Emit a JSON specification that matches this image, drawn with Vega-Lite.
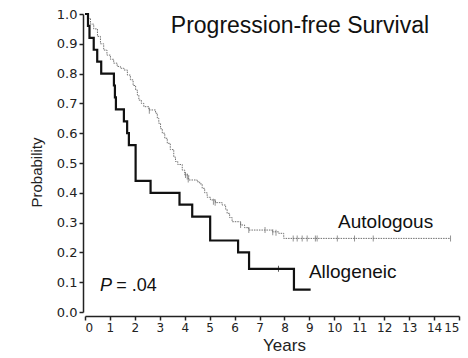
{
  "$schema": "https://vega.github.io/schema/vega-lite/v6.json",
  "autosize": {"type": "none"},
  "padding": {"left": 85, "top": 14, "right": 9, "bottom": 46},
  "width": 374,
  "height": 298,
  "background": "white",
  "config": {
    "view": {"stroke": null},
    "font": "Liberation Sans",
    "axis": {
      "grid": false,
      "domainColor": "#222",
      "domainWidth": 1.5,
      "tickColor": "#222",
      "tickSize": 4,
      "tickWidth": 1.5,
      "labelColor": "#222",
      "labelFont": "DejaVu Sans",
      "labelFontWeight": "normal",
      "labelFontSize": 13,
      "labelPadding": 2,
      "labelOverlap": false,
      "labelBound": false,
      "titleFont": "Liberation Sans",
      "titleFontWeight": "normal",
      "titleColor": "#222"
    }
  },
  "datasets": {
    "curves": [
      {"group": "Autologous", "year": 0, "surv": 1.0},
      {"group": "Autologous", "year": 0.1, "surv": 0.985},
      {"group": "Autologous", "year": 0.22, "surv": 0.966},
      {"group": "Autologous", "year": 0.35, "surv": 0.95},
      {"group": "Autologous", "year": 0.5, "surv": 0.925},
      {"group": "Autologous", "year": 0.62, "surv": 0.9},
      {"group": "Autologous", "year": 0.75, "surv": 0.879},
      {"group": "Autologous", "year": 0.88, "surv": 0.862},
      {"group": "Autologous", "year": 1.02, "surv": 0.848},
      {"group": "Autologous", "year": 1.15, "surv": 0.835},
      {"group": "Autologous", "year": 1.29, "surv": 0.824},
      {"group": "Autologous", "year": 1.42, "surv": 0.818},
      {"group": "Autologous", "year": 1.56, "surv": 0.812},
      {"group": "Autologous", "year": 1.7, "surv": 0.795},
      {"group": "Autologous", "year": 1.82, "surv": 0.779},
      {"group": "Autologous", "year": 1.93, "surv": 0.76},
      {"group": "Autologous", "year": 2.03, "surv": 0.745},
      {"group": "Autologous", "year": 2.1, "surv": 0.728},
      {"group": "Autologous", "year": 2.16, "surv": 0.711},
      {"group": "Autologous", "year": 2.26, "surv": 0.7},
      {"group": "Autologous", "year": 2.36, "surv": 0.689},
      {"group": "Autologous", "year": 2.56, "surv": 0.678},
      {"group": "Autologous", "year": 2.83, "surv": 0.667},
      {"group": "Autologous", "year": 2.9, "surv": 0.65},
      {"group": "Autologous", "year": 2.96, "surv": 0.633},
      {"group": "Autologous", "year": 3.03, "surv": 0.615},
      {"group": "Autologous", "year": 3.1, "surv": 0.6},
      {"group": "Autologous", "year": 3.2, "surv": 0.583},
      {"group": "Autologous", "year": 3.3, "surv": 0.566},
      {"group": "Autologous", "year": 3.42, "surv": 0.545},
      {"group": "Autologous", "year": 3.56, "surv": 0.52},
      {"group": "Autologous", "year": 3.63, "surv": 0.505},
      {"group": "Autologous", "year": 3.72, "surv": 0.495},
      {"group": "Autologous", "year": 3.9, "surv": 0.476},
      {"group": "Autologous", "year": 4.0, "surv": 0.46},
      {"group": "Autologous", "year": 4.16, "surv": 0.443},
      {"group": "Autologous", "year": 4.5, "surv": 0.437},
      {"group": "Autologous", "year": 4.6, "surv": 0.43},
      {"group": "Autologous", "year": 4.7, "surv": 0.415},
      {"group": "Autologous", "year": 4.8, "surv": 0.4},
      {"group": "Autologous", "year": 4.9, "surv": 0.385},
      {"group": "Autologous", "year": 5.03, "surv": 0.376},
      {"group": "Autologous", "year": 5.23, "surv": 0.367},
      {"group": "Autologous", "year": 5.5, "surv": 0.359},
      {"group": "Autologous", "year": 5.64, "surv": 0.345},
      {"group": "Autologous", "year": 5.7, "surv": 0.331},
      {"group": "Autologous", "year": 5.8, "surv": 0.317},
      {"group": "Autologous", "year": 5.9, "surv": 0.303},
      {"group": "Autologous", "year": 6.24, "surv": 0.292},
      {"group": "Autologous", "year": 6.4, "surv": 0.283},
      {"group": "Autologous", "year": 6.57, "surv": 0.275},
      {"group": "Autologous", "year": 7.51, "surv": 0.269},
      {"group": "Autologous", "year": 7.77, "surv": 0.264},
      {"group": "Autologous", "year": 7.97, "surv": 0.247},
      {"group": "Autologous", "year": 14.66, "surv": 0.247},
      {"group": "Allogeneic", "year": 0, "surv": 1.0},
      {"group": "Allogeneic", "year": 0.12, "surv": 0.96},
      {"group": "Allogeneic", "year": 0.18, "surv": 0.92},
      {"group": "Allogeneic", "year": 0.35, "surv": 0.88},
      {"group": "Allogeneic", "year": 0.49, "surv": 0.84},
      {"group": "Allogeneic", "year": 0.65, "surv": 0.8},
      {"group": "Allogeneic", "year": 1.16, "surv": 0.76},
      {"group": "Allogeneic", "year": 1.2, "surv": 0.72},
      {"group": "Allogeneic", "year": 1.24, "surv": 0.68},
      {"group": "Allogeneic", "year": 1.56, "surv": 0.64},
      {"group": "Allogeneic", "year": 1.69, "surv": 0.6},
      {"group": "Allogeneic", "year": 1.76, "surv": 0.56},
      {"group": "Allogeneic", "year": 2.03, "surv": 0.44},
      {"group": "Allogeneic", "year": 2.63, "surv": 0.4},
      {"group": "Allogeneic", "year": 3.79, "surv": 0.36},
      {"group": "Allogeneic", "year": 4.3, "surv": 0.32},
      {"group": "Allogeneic", "year": 5.02, "surv": 0.24},
      {"group": "Allogeneic", "year": 6.14, "surv": 0.2},
      {"group": "Allogeneic", "year": 6.58, "surv": 0.145},
      {"group": "Allogeneic", "year": 8.38, "surv": 0.075},
      {"group": "Allogeneic", "year": 9.05, "surv": 0.075}
    ],
    "censored": [
      {"group": "Autologous", "year": 2.58, "surv": 0.675},
      {"group": "Autologous", "year": 4.03, "surv": 0.46},
      {"group": "Autologous", "year": 4.1, "surv": 0.455},
      {"group": "Autologous", "year": 4.14, "surv": 0.445},
      {"group": "Autologous", "year": 5.15, "surv": 0.37},
      {"group": "Autologous", "year": 5.22, "surv": 0.367},
      {"group": "Autologous", "year": 6.24, "surv": 0.292},
      {"group": "Autologous", "year": 6.57, "surv": 0.275},
      {"group": "Autologous", "year": 7.22, "surv": 0.275},
      {"group": "Autologous", "year": 7.53, "surv": 0.268},
      {"group": "Autologous", "year": 7.66, "surv": 0.266},
      {"group": "Autologous", "year": 8.35, "surv": 0.247},
      {"group": "Autologous", "year": 8.51, "surv": 0.247},
      {"group": "Autologous", "year": 8.71, "surv": 0.247},
      {"group": "Autologous", "year": 8.91, "surv": 0.247},
      {"group": "Autologous", "year": 9.24, "surv": 0.247},
      {"group": "Autologous", "year": 9.31, "surv": 0.247},
      {"group": "Autologous", "year": 10.12, "surv": 0.247},
      {"group": "Autologous", "year": 10.81, "surv": 0.247},
      {"group": "Autologous", "year": 11.56, "surv": 0.247},
      {"group": "Autologous", "year": 14.66, "surv": 0.247},
      {"group": "Allogeneic", "year": 7.76, "surv": 0.145}
    ],
    "labels": [
      {"text": "Progression-free Survival", "year": 8.62, "surv": 0.936, "kind": "title"},
      {"text": "Autologous", "year": 10.15, "surv": 0.302, "kind": "label"},
      {"text": "Allogeneic", "year": 8.98, "surv": 0.134, "kind": "label"}
    ]
  },
  "encoding": {
    "x": {
      "field": "year", "type": "quantitative",
      "scale": {"domain": [0, 15], "nice": false, "zero": false},
      "axis": {"values": [0,1,2,3,4,5,6,7,8,9,10,11,12,13,14,15], "labelFontSize": 12, "title": "Years", "titleFontSize": 17, "titlePadding": 4, "titleX": 199, "offset": 4}
    },
    "y": {
      "field": "surv", "type": "quantitative",
      "scale": {"domain": [0, 1], "nice": false},
      "axis": {"values": [0,0.1,0.2,0.3,0.4,0.5,0.6,0.7,0.8,0.9,1.0], "format": ".1f", "title": "Probability", "titleFontSize": 15, "titlePadding": 12, "titleY": 158, "offset": 2}
    }
  },
  "layer": [
    {
      "data": {"name": "curves"},
      "transform": [{"filter": "datum.group === 'Autologous'"}],
      "mark": {"type": "line", "interpolate": "step-after", "color": "#707070", "strokeWidth": 1, "strokeDash": [1.5, 1]}
    },
    {
      "data": {"name": "curves"},
      "transform": [{"filter": "datum.group === 'Allogeneic'"}],
      "mark": {"type": "line", "interpolate": "step-after", "color": "#111", "strokeWidth": 2.2}
    },
    {
      "data": {"name": "censored"},
      "transform": [{"filter": "datum.group === 'Autologous'"}],
      "mark": {"type": "tick", "orient": "vertical", "size": 6, "thickness": 1, "color": "#666"}
    },
    {
      "data": {"name": "censored"},
      "transform": [{"filter": "datum.group === 'Allogeneic'"}],
      "mark": {"type": "tick", "orient": "vertical", "size": 6, "thickness": 1, "color": "#111"}
    },
    {
      "data": {"name": "labels"},
      "transform": [{"filter": "datum.kind === 'title'"}],
      "mark": {"type": "text", "align": "center", "baseline": "alphabetic", "fontSize": 23, "color": "#111"},
      "encoding": {"text": {"field": "text"}}
    },
    {
      "data": {"name": "labels"},
      "transform": [{"filter": "datum.kind === 'label'"}],
      "mark": {"type": "text", "align": "left", "baseline": "middle", "fontSize": 19, "color": "#111"},
      "encoding": {"text": {"field": "text"}}
    },
    {
      "data": {"values": [{"year": 0.6, "surv": 0.087, "text": "P"}]},
      "mark": {"type": "text", "align": "left", "baseline": "middle", "fontSize": 18, "fontStyle": "italic", "color": "#111"},
      "encoding": {"text": {"field": "text"}}
    },
    {
      "data": {"values": [{"year": 1.17, "surv": 0.087, "text": "= .04"}]},
      "mark": {"type": "text", "align": "left", "baseline": "middle", "fontSize": 18, "color": "#111", "dx": 2},
      "encoding": {"text": {"field": "text"}}
    }
  ]
}
